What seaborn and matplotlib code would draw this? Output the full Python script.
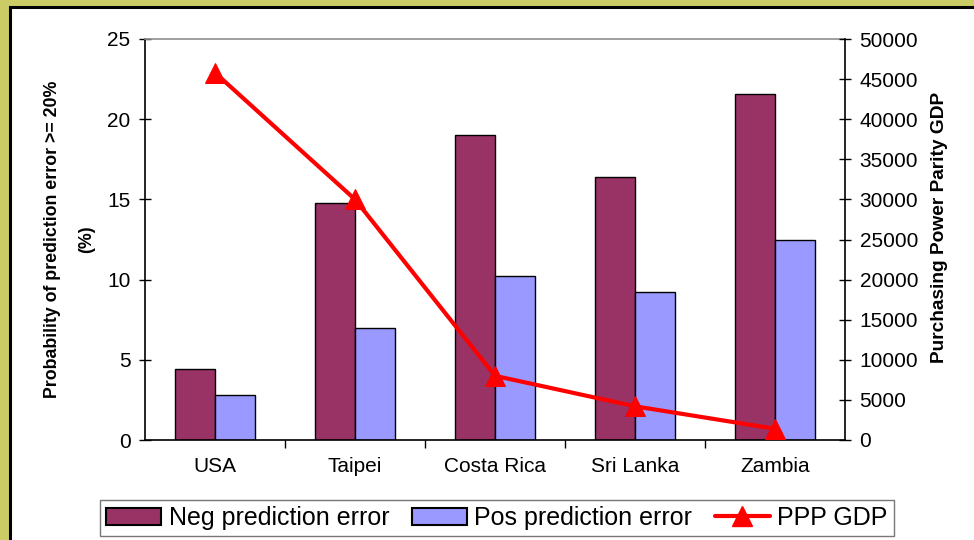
import matplotlib
matplotlib.use("Agg")
import matplotlib.pyplot as plt
from matplotlib.patches import Rectangle
from matplotlib.lines import Line2D
from matplotlib.patches import Patch
import seaborn as sns
import pandas as pd

countries = ["USA", "Taipei", "Costa Rica", "Sri Lanka", "Zambia"]
neg_error = [4.4, 14.8, 19.0, 16.4, 21.6]
pos_error = [2.8, 7.0, 10.2, 9.2, 12.5]
ppp_gdp = [45800, 30000, 8000, 4200, 1400]

NEG_COLOR = "#993366"
POS_COLOR = "#9999FF"
LINE_COLOR = "#FF0000"

sns.set_theme(style="white")
plt.rcParams["font.family"] = ["Liberation Sans", "DejaVu Sans"]
plt.rcParams["text.color"] = "black"
plt.rcParams["axes.labelcolor"] = "black"
plt.rcParams["xtick.color"] = "black"
plt.rcParams["ytick.color"] = "black"

df = pd.DataFrame({
    "country": countries * 2,
    "value": neg_error + pos_error,
    "series": ["Neg prediction error"] * len(countries) + ["Pos prediction error"] * len(countries),
})

fig = plt.figure(figsize=(9.74, 5.4), dpi=100)
fig.patch.set_facecolor("#CCCC66")
fig.patches.append(Rectangle((10 / 974, -0.1), 1.1, 1.1 - 7.5 / 540, transform=fig.transFigure,
                             facecolor="white", edgecolor="black", linewidth=2.2, zorder=-10))

ax = fig.add_axes([145 / 974, 1 - 440 / 540, 700 / 974, 401 / 540])
ax.set_facecolor("none")
sns.barplot(data=df, x="country", y="value", hue="series",
            palette=[NEG_COLOR, POS_COLOR], saturation=1, width=0.57, edgecolor="black",
            linewidth=1.0, ax=ax, legend=False, order=countries)

ax.set_ylim(0, 25)
ax.set_xlim(-0.5, len(countries) - 0.5)
ax.set_yticks([0, 5, 10, 15, 20, 25])
ax.set_xlabel("")
ax.set_ylabel("Probability of prediction error >= 20%\n(%)", fontsize=12.8,
              fontweight="bold", linespacing=2.3)
ax.yaxis.set_label_coords(-0.071, 0.5)
ax.tick_params(axis="y", which="major", direction="inout", length=9, width=1,
               labelsize=15, pad=6, left=True)
ax.tick_params(axis="x", which="major", length=0, labelsize=15, pad=12)
ax.set_xticks(range(len(countries)))
ax.set_xticks([i + 0.5 for i in range(len(countries) - 1)], minor=True)
ax.tick_params(axis="x", which="minor", direction="out", length=6, width=1, bottom=True)

for side in ["left", "bottom"]:
    ax.spines[side].set_color("black")
    ax.spines[side].set_linewidth(1.2)
ax.spines["top"].set_color("#909090")
ax.spines["top"].set_linewidth(1.2)
ax.spines["right"].set_visible(False)

ax2 = ax.twinx()
sns.lineplot(x=list(range(len(countries))), y=ppp_gdp, ax=ax2, color=LINE_COLOR,
             linewidth=3, marker="^", markersize=14, markeredgecolor=LINE_COLOR,
             sort=False)
ax2.set_ylim(0, 50000)
ax2.set_yticks(range(0, 50001, 5000))
ax2.set_ylabel("Purchasing Power Parity GDP", fontsize=13.8, fontweight="bold")
ax2.yaxis.set_label_coords(1.123, 0.531)
ax2.tick_params(axis="y", which="major", direction="inout", length=9, width=1,
                labelsize=15, pad=6, right=True)
ax2.spines["right"].set_color("black")
ax2.spines["right"].set_linewidth(1.2)
for side in ["left", "top", "bottom"]:
    ax2.spines[side].set_visible(False)
ax2.grid(False)
ax.grid(False)

handles = [
    Patch(facecolor=NEG_COLOR, edgecolor="black", linewidth=1.5),
    Patch(facecolor=POS_COLOR, edgecolor="black", linewidth=1.5),
    Line2D([0], [0], color=LINE_COLOR, linewidth=3, marker="^", markersize=14),
]
labels = ["Neg prediction error", "Pos prediction error", "PPP GDP"]
leg = fig.legend(handles, labels, loc="center", bbox_to_anchor=(497 / 974, 1 - 518 / 540),
                 ncol=3, fontsize=18, frameon=True, fancybox=False, edgecolor="#555555",
                 handlelength=2.2, handleheight=0.7, handletextpad=0.3, columnspacing=0.9,
                 borderpad=0.25)
leg.get_frame().set_linewidth(1.0)

fig.savefig("out.png", dpi=100)
